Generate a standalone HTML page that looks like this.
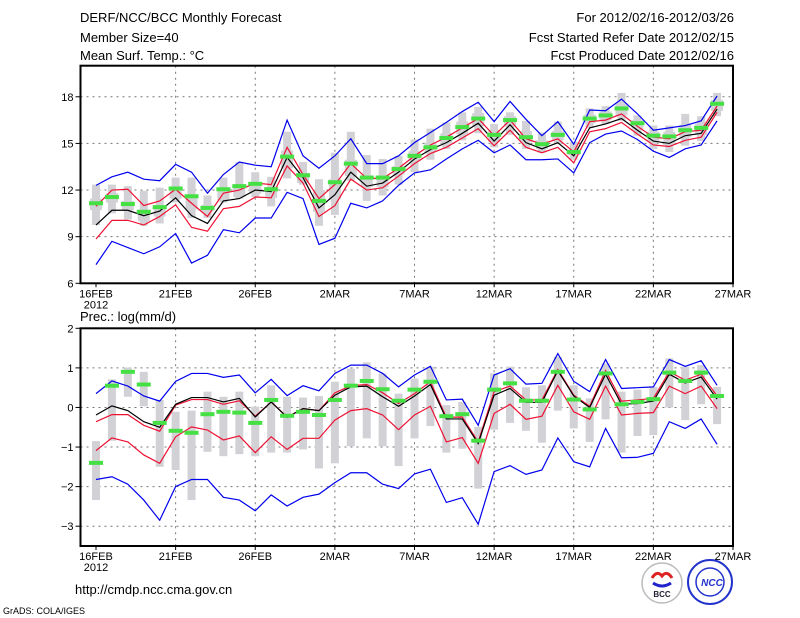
<!DOCTYPE html>
<html><head><meta charset="utf-8"><style>
body{margin:0;background:#fff;}
svg{display:block;font-family:"Liberation Sans",sans-serif;}
</style></head><body>
<svg id="chart" width="800" height="618" xmlns="http://www.w3.org/2000/svg">
<g font-size="13" fill="#000">
<text x="80" y="22">DERF/NCC/BCC Monthly Forecast</text>
<text x="80" y="42">Member Size=40</text>
<text x="80" y="60">Mean Surf. Temp.: °C</text>
<text x="734" y="22" text-anchor="end">For 2012/02/16-2012/03/26</text>
<text x="734" y="42" text-anchor="end">Fcst Started Refer Date 2012/02/15</text>
<text x="734" y="60" text-anchor="end">Fcst Produced Date 2012/02/16</text>
<text x="80" y="321">Prec.: log(mm/d)</text>
<text x="75" y="594">http://cmdp.ncc.cma.gov.cn</text>
<text x="3" y="614" font-size="9">GrADS: COLA/IGES</text>
</g>
<g>
<circle cx="662" cy="583" r="20" fill="#fff" stroke="#bbb" stroke-width="1.5"/>
<path d="M652 578 q5 -8 10 -2 q5 -6 10 2" fill="none" stroke="#d22" stroke-width="3"/>
<path d="M653 583 q9 6 18 0" fill="none" stroke="#22c" stroke-width="3"/>
<text x="662" y="597" font-size="8" font-weight="bold" text-anchor="middle" fill="#223">BCC</text>
</g>
<g>
<circle cx="710" cy="582" r="22" fill="#fff" stroke="#2233cc" stroke-width="2"/>
<circle cx="710" cy="582" r="14" fill="none" stroke="#2233cc" stroke-width="1.5"/>
<text x="712" y="586" font-size="10" font-weight="bold" font-style="italic" text-anchor="middle" fill="#2233cc">NCC</text>
</g>
<g id="top"></g>
<g id="bot"></g>
</svg>
<script>
const days=[0,1,2,3,4,5,6,7,8,9,10,11,12,13,14,15,16,17,18,19,20,21,22,23,24,25,26,27,28,29,30,31,32,33,34,35,36,37,38,39];
const tickDays=[0,5,10,15,20,25,30,35,40];
const tickLabels=["16FEB","21FEB","26FEB","2MAR","7MAR","12MAR","17MAR","22MAR","27MAR"];
const tTicks=[6,9,12,15,18];
const pTicks=[-3,-2,-1,0,1,2];
// temperature
const tBlueHi=[12.3,12.85,13.15,12.7,12.6,13.65,13.15,11.8,13.0,13.8,13.6,13.5,16.5,14.2,13.4,14.2,15.3,13.7,13.7,14.2,15.05,15.7,16.35,17.05,17.65,16.4,17.7,16.55,15.5,16.4,14.95,17.15,17.1,17.85,16.9,15.85,16.0,16.15,16.45,18.05];
const tRedHi=[10.95,12.0,12.05,11.0,11.3,12.05,11.15,10.3,11.8,12.0,12.45,12.35,14.75,13.0,11.45,12.35,13.7,12.75,12.75,13.4,14.2,14.9,15.4,16.0,16.6,15.5,16.5,15.3,14.95,15.3,14.45,16.4,16.5,16.9,16.1,15.4,15.3,15.75,15.85,17.4];
const tMean=[9.75,10.7,10.7,10.35,10.65,11.5,10.35,9.85,11.3,11.45,12.0,11.9,14.1,12.8,10.85,11.7,13.15,12.25,12.45,13.15,14.0,14.6,15.05,15.65,16.3,15.15,16.2,15.05,14.65,15.05,14.2,16.0,16.25,16.6,15.85,15.15,15.0,15.5,15.65,17.2];
const tRedLo=[8.85,10.05,10.05,9.75,10.3,11.05,9.6,9.35,10.8,10.95,11.55,11.5,13.55,12.45,10.3,11.0,12.7,12.0,12.15,12.9,13.7,14.35,14.75,15.35,15.95,14.85,15.85,14.75,14.4,14.75,13.75,15.75,15.95,16.35,15.6,14.9,14.8,15.2,15.4,17.0];
const tBlueLo=[7.2,8.7,8.3,7.9,8.35,9.2,7.3,7.8,9.45,9.25,10.2,10.2,11.85,11.45,8.5,8.9,11.15,10.85,11.3,12.3,13.1,13.3,14.0,14.65,15.2,14.4,14.9,13.95,13.95,14.0,13.1,15.05,15.6,15.8,15.25,14.5,14.1,14.65,14.9,16.45];
const tObs=[11.15,11.55,11.1,10.6,10.9,12.1,11.6,10.85,12.05,12.25,12.4,12.05,14.15,12.95,11.3,12.5,13.7,12.8,12.8,13.35,14.2,14.75,15.35,16.05,16.6,15.55,16.5,15.4,14.95,15.55,14.45,16.6,16.8,17.25,16.3,15.5,15.45,15.85,16.0,17.55];
const tGreyHi=[12.35,12.35,12.25,11.95,12.15,12.8,12.8,11.65,12.8,13.8,13.15,12.85,15.75,13.8,12.7,14.4,15.75,14.25,14.0,14.2,15.25,15.95,16.35,17.0,17.35,16.25,17.0,16.45,15.7,16.4,15.1,17.25,17.4,18.25,16.8,16.15,16.15,16.9,16.75,18.25];
const tGreyLo=[9.75,10.5,10.1,9.7,9.85,11.2,10.2,10.2,11.2,11.45,11.55,10.95,12.75,12.35,9.7,10.4,12.6,11.3,11.65,12.35,13.15,13.95,14.65,15.2,15.65,14.75,15.55,14.65,14.4,14.95,13.95,16.0,16.25,16.45,15.5,14.65,14.45,14.85,15.15,16.75];
const tBoxHi=[11.45,11.8,11.3,10.75,10.95,12.1,11.7,11.05,12.0,12.3,12.4,12.2,14.55,13.1,12.0,12.7,13.95,12.95,12.95,13.55,14.5,15.05,15.65,16.4,16.95,15.85,16.75,15.8,15.2,15.8,14.6,16.85,17.05,17.6,16.5,15.75,15.75,16.2,16.3,17.8];
const tBoxLo=[10.7,11.2,10.7,10.0,10.3,11.45,10.75,10.6,11.35,11.55,11.75,11.5,13.4,12.45,10.6,11.4,12.9,12.2,12.2,13.0,13.85,14.45,15.0,15.6,16.1,15.1,16.1,15.1,14.65,15.2,14.25,16.3,16.5,16.8,15.9,15.1,14.9,15.4,15.55,17.1];
// precipitation
const pBlueHi=[0.35,0.67,0.54,0.29,0.16,0.66,0.86,0.86,0.76,0.82,0.37,0.71,0.3,0.55,0.42,0.86,1.07,1.07,0.86,0.52,0.82,1.04,0.19,0.21,-0.45,0.82,0.98,0.59,0.61,1.36,0.66,0.4,1.21,0.48,0.5,0.52,1.21,1.04,1.18,0.56];
const pRedHi=[-0.36,-0.18,-0.18,-0.45,-0.6,0.06,0.2,0.2,0.08,0.17,-0.22,0.14,-0.24,-0.03,-0.08,0.37,0.55,0.58,0.37,0.1,0.35,0.65,-0.25,-0.24,-0.87,0.4,0.54,0.19,0.19,0.96,0.31,0.03,0.93,0.16,0.19,0.23,0.9,0.69,0.84,0.29];
const pMean=[-0.19,0.04,-0.08,-0.36,-0.5,0.08,0.25,0.25,0.14,0.23,-0.24,0.14,-0.25,-0.03,-0.08,0.31,0.52,0.54,0.27,0.03,0.29,0.58,-0.29,-0.29,-0.91,0.31,0.48,0.13,0.13,0.93,0.29,0.0,0.84,0.08,0.1,0.16,0.84,0.62,0.77,0.21];
const pRedLo=[-1.09,-0.77,-0.87,-1.2,-1.41,-0.74,-0.49,-0.57,-0.82,-0.72,-1.14,-0.74,-1.06,-0.78,-0.78,-0.32,-0.08,-0.03,-0.19,-0.56,-0.19,0.03,-0.87,-0.76,-1.41,-0.15,0.08,-0.3,-0.22,0.56,-0.11,-0.3,0.54,-0.19,-0.15,-0.13,0.54,0.35,0.54,-0.03];
const pBlueLo=[-1.82,-1.75,-1.94,-2.34,-2.85,-2.0,-1.82,-1.82,-2.27,-2.34,-2.61,-2.21,-2.49,-2.27,-2.19,-1.9,-1.65,-1.65,-1.94,-2.05,-1.68,-1.56,-2.4,-2.28,-2.95,-1.62,-1.47,-1.69,-1.58,-0.77,-1.37,-1.5,-0.53,-1.27,-1.26,-1.16,-0.36,-0.53,-0.29,-0.93];
const pObs=[-1.4,0.55,0.9,0.58,-0.39,-0.59,-0.64,-0.17,-0.11,-0.13,-0.39,0.19,-0.21,-0.11,-0.19,0.19,0.55,0.67,0.46,0.17,0.45,0.65,-0.22,-0.17,-0.84,0.45,0.61,0.17,0.17,0.9,0.2,-0.05,0.86,0.08,0.14,0.21,0.88,0.67,0.88,0.29];
const pGreyHi=[-0.85,0.71,1.01,0.9,0.19,-0.11,-0.08,0.4,0.27,0.4,0.02,0.56,0.27,0.25,0.29,0.65,0.98,1.14,0.86,0.35,0.73,1.03,0.06,0.14,-0.49,0.86,1.03,0.51,0.56,1.28,0.56,0.23,1.11,0.4,0.45,0.52,1.24,1.03,1.07,0.52];
const pGreyLo=[-2.34,-0.84,0.27,0.03,-1.5,-1.58,-2.34,-1.12,-1.23,-1.18,-1.23,-1.14,-1.14,-1.06,-1.54,-1.41,-0.98,-0.78,-0.98,-1.48,-0.78,-0.47,-1.14,-1.04,-2.05,-0.56,-0.39,-0.59,-0.89,-0.08,-0.53,-0.87,-0.3,-1.14,-0.72,-0.7,0.0,-0.32,0.08,-0.42];

const NS="http://www.w3.org/2000/svg";
const X0=80.5,X1=733,D0=96,DX=(733-96)/40;
const xs=d=>D0+d*DX;
function mk(p,tag,a){const e=document.createElementNS(NS,tag);for(const k in a)e.setAttribute(k,a[k]);p.appendChild(e);return e;}
function panel(g,top,bot,vmin,vmax,ticks,S,nm){
  const ys=v=>bot-(v-vmin)/(vmax-vmin)*(bot-top);
  // grid
  tickDays.forEach((d,i)=>{if(d>0&&d<40){const l=mk(g,'line',{x1:xs(d),x2:xs(d),y1:top,y2:bot,stroke:'#777','stroke-dasharray':'2,4'});

}
    const t=mk(g,'text',{x:xs(d),y:bot+14,'font-size':'11','text-anchor':'middle'});t.textContent=tickLabels[i];


    mk(g,'line',{x1:xs(d),x2:xs(d),y1:bot,y2:bot+4,stroke:'#000'});
  });
  const yr=mk(g,'text',{x:xs(0),y:bot+25,'font-size':'11','text-anchor':'middle'});yr.textContent='2012';


  ticks.forEach(v=>{const y=ys(v);
    if(y>top+2&&y<bot-2){const l=mk(g,'line',{x1:X0,x2:X1,y1:y,y2:y,stroke:'#777','stroke-dasharray':'2,4'});

}
    mk(g,'line',{x1:X0-5,x2:X0,y1:y,y2:y,stroke:'#000'});
    const t=mk(g,'text',{x:X0-7,y:y+4,'font-size':'11','text-anchor':'end'});t.textContent=(v<0?'\u2212'+(-v):v);


  });
  // grey bars
  days.forEach(d=>{const x=xs(d);
    const r=mk(g,'rect',{x:x-4,y:ys(S.gh[d]),width:8,height:Math.max(1,ys(S.gl[d])-ys(S.gh[d])),fill:'#d2d2d6'});


    if(S.bh){const b=mk(g,'rect',{x:x-6,y:ys(S.bh[d]),width:12,height:Math.max(1,ys(S.bl[d])-ys(S.bh[d])),fill:'#d2d2d6'});

}
  });
  const line=(arr,c,n)=>{const p=mk(g,'polyline',{points:days.map(d=>xs(d)+','+ys(arr[d])).join(' '),fill:'none',stroke:c,'stroke-width':'1.2'});

};
  line(S.bl1,'#0000ee',nm+'-blue-lower');line(S.bh1,'#0000ee',nm+'-blue-upper');
  line(S.rl,'#ee1133',nm+'-red-lower');line(S.rh,'#ee1133',nm+'-red-upper');
  line(S.m,'#000',nm+'-ensemble-mean');
  days.forEach(d=>{const r=mk(g,'rect',{x:xs(d)-7,y:ys(S.o[d])-2,width:14,height:4,fill:'#44e044'});

});
  const f=mk(g,'rect',{x:X0,y:top,width:X1-X0,height:bot-top,fill:'none',stroke:'#000','stroke-width':'2'});


}
panel(document.getElementById('top'),65.7,283.3,6,20,tTicks,{gh:tGreyHi,gl:tGreyLo,bh:tBoxHi,bl:tBoxLo,bh1:tBlueHi,bl1:tBlueLo,rh:tRedHi,rl:tRedLo,m:tMean,o:tObs},'temp');
panel(document.getElementById('bot'),328.3,546,-3.5,2,pTicks,{gh:pGreyHi,gl:pGreyLo,bh1:pBlueHi,bl1:pBlueLo,rh:pRedHi,rl:pRedLo,m:pMean,o:pObs},'precip');
</script>
</body></html>
